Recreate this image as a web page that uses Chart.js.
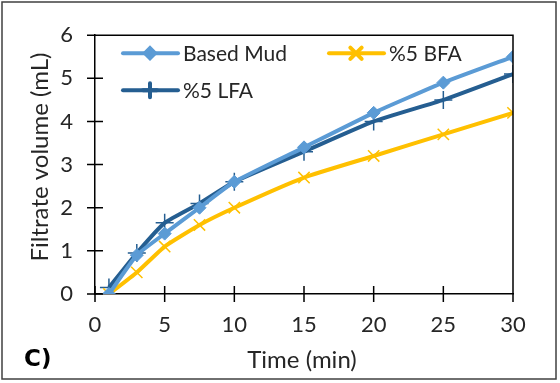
<!DOCTYPE html>
<html>
<head>
<meta charset="utf-8">
<script src="https://cdn.jsdelivr.net/npm/chart.js@4/dist/chart.umd.min.js"></script>
<style>
  html, body { margin: 0; padding: 0; background: #fff; }
  #wrap { width: 560px; height: 383px; position: relative; }
</style>
</head>
<body>
<div id="wrap"><canvas id="chart" width="560" height="383"></canvas></div>
<script>
/* data */
const times = [1, 3, 5, 7.5, 10, 15, 20, 25, 30];
const basedMud = [0, 0.9, 1.4, 2.0, 2.6, 3.4, 4.2, 4.9, 5.5];
const bfa5 = [0, 0.5, 1.1, 1.6, 2.0, 2.7, 3.2, 3.7, 4.2];
const lfa5 = [0.15, 0.95, 1.65, 2.1, 2.6, 3.3, 4.0, 4.5, 5.1];
const xTicks = [0, 5, 10, 15, 20, 25, 30];
const yTicks = [0, 1, 2, 3, 4, 5, 6];

const FONT = "Lato, 'Open Sans', sans-serif";
const TXT = '#262626';

function pts(ys) {
    return times.map(function (t, i) { return { x: t, y: ys[i] }; });
}

/* axis ticks crossing the axis lines, titles, legend, frame */
const decor = {
    id: 'decor',
    afterDraw: function (chart) {
        const ctx = chart.ctx;
        const xs = chart.scales.x, ys = chart.scales.y;
        const a = chart.chartArea;
        ctx.save();
        ctx.strokeStyle = '#000';
        ctx.lineWidth = 1.5;
        ctx.beginPath();
        yTicks.forEach(function (v) {
            const y = ys.getPixelForValue(v);
            ctx.moveTo(a.left - 8, y); ctx.lineTo(a.left + 8, y);
        });
        xTicks.forEach(function (v) {
            const x = xs.getPixelForValue(v);
            ctx.moveTo(x, a.bottom - 8); ctx.lineTo(x, a.bottom + 8);
        });
        ctx.moveTo(a.left, a.top); ctx.lineTo(a.right, a.top);
        ctx.lineTo(a.right, a.bottom);
        ctx.stroke();

        /* outer frame */
        ctx.strokeStyle = '#404040';
        ctx.lineWidth = 1.5;
        ctx.strokeRect(2, 2, 554, 377);

        /* axis titles */
        ctx.fillStyle = TXT;
        ctx.font = '24px ' + FONT;
        ctx.textAlign = 'center';
        ctx.textBaseline = 'middle';
        ctx.fillText('Time (min)', 302, 360);
        ctx.save();
        ctx.translate(40, 157);
        ctx.rotate(-Math.PI / 2);
        ctx.fillText('Filtrate volume (mL)', 0, 0);
        ctx.restore();
        ctx.fillStyle = '#000';
        ctx.font = "bold 23px 'DejaVu Sans', sans-serif";
        ctx.textAlign = 'left';
        ctx.fillText('C)', 24, 360);

        /* legend */
        const items = [
            { ds: 0, x: a.left + 28, y: a.top + 18, label: 'Based Mud', r: 5 },
            { ds: 1, x: a.left + 234, y: a.top + 18, label: '%5 BFA', r: 8 },
            { ds: 2, x: a.left + 28, y: a.top + 55, label: '%5 LFA', r: 7 }
        ];
        items.forEach(function (it) {
            const d = chart.data.datasets[it.ds];
            ctx.strokeStyle = d.borderColor;
            ctx.lineWidth = d.borderWidth;
            ctx.lineCap = 'round';
            ctx.beginPath();
            ctx.moveTo(it.x, it.y); ctx.lineTo(it.x + 55, it.y);
            ctx.stroke();
            ctx.fillStyle = d.borderColor;
            Chart.helpers.drawPoint(ctx, {
                pointStyle: d.pointStyle,
                radius: it.r,
                borderWidth: d.pointBorderWidth,
                rotation: 0
            }, it.x + 27, it.y);
            ctx.fillStyle = TXT;
            ctx.font = '21px ' + FONT;
            ctx.textAlign = 'left';
            ctx.textBaseline = 'middle';
            ctx.fillText(it.label, it.x + 60, it.y + 1);
        });
        ctx.restore();
    }
};

function series(label, ys, color, style, radius, pbw) {
    return {
        label: label,
        data: pts(ys),
        borderColor: color,
        backgroundColor: color,
        pointBackgroundColor: color,
        pointBorderColor: color,
        borderWidth: 4,
        pointStyle: style,
        pointRadius: radius,
        pointBorderWidth: pbw,
        tension: 0.15
    };
}

new Chart(document.getElementById('chart').getContext('2d'), {
    type: 'line',
    data: {
        datasets: [
            series('Based Mud', basedMud, '#5B9BD5', 'rectRot', 6.5, 1),
            series('%5 BFA', bfa5, '#FFC000', 'crossRot', 8, 1.5),
            series('%5 LFA', lfa5, '#255E91', 'cross', 9, 1.5)
        ]
    },
    options: {
        responsive: false,
        animation: false,
        layout: { padding: { left: 0, top: 20, right: 47, bottom: 0 } },
        plugins: { legend: { display: false }, tooltip: { enabled: false } },
        scales: {
            x: {
                type: 'linear',
                min: 0, max: 30,
                afterFit: function (s) { s.height = 89; },
                afterBuildTicks: function (s) { s.ticks = xTicks.map(function (v) { return { value: v }; }); },
                grid: { display: false, drawTicks: false },
                border: { display: true, color: '#000', width: 1.5 },
                ticks: { padding: 18, color: TXT, font: { family: FONT, size: 22 }, maxRotation: 0 }
            },
            y: {
                min: 0, max: 6,
                afterFit: function (s) { s.width = 95; },
                afterBuildTicks: function (s) { s.ticks = yTicks.map(function (v) { return { value: v }; }); },
                grid: { display: false, drawTicks: false },
                border: { display: true, color: '#000', width: 1.5 },
                ticks: { padding: 22, color: TXT, font: { family: FONT, size: 22 } }
            }
        }
    },
    plugins: [decor]
});
</script>
</body>
</html>
